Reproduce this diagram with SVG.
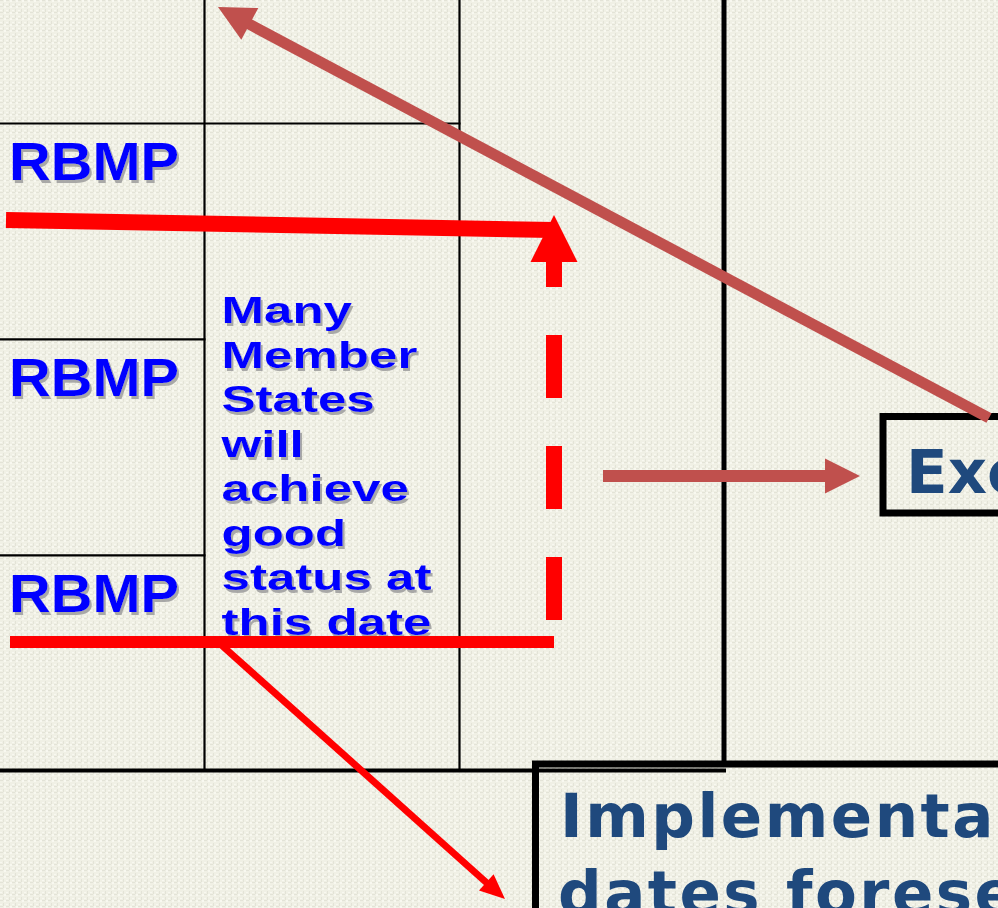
<svg xmlns="http://www.w3.org/2000/svg" width="998" height="908" viewBox="0 0 998 908">
<style>
.grid{stroke:#000;stroke-width:2.2;fill:none}
.heavy{stroke:#000;fill:none}
.rb{font-family:"Liberation Sans",Arial,sans-serif;font-weight:bold;font-size:54px;fill:#0000FF}
.cell{font-family:"Liberation Sans",Arial,sans-serif;font-weight:bold;font-size:37px;fill:#0000FF}
.dk{font-family:"DejaVu Sans",Verdana,sans-serif;font-weight:bold;font-size:61px;fill:#1F497D}
.red{stroke:#FF0000;fill:none}
.brn{stroke:#C0504D;fill:none}
</style>
<defs>
<pattern id="tex" width="6" height="6" patternUnits="userSpaceOnUse">
<rect width="6" height="6" fill="#F0F0E5"/>
<rect x="0" y="0" width="3" height="1" fill="#E3E3D7"/>
<rect x="3" y="3" width="1" height="3" fill="#E3E3D7"/>
<rect x="4" y="0" width="2" height="2" fill="#F8F8F0"/>
<rect x="0" y="4" width="2" height="1" fill="#F8F8F0"/>
</pattern>
<filter id="sh" x="-10%" y="-10%" width="125%" height="125%">
<feOffset in="SourceAlpha" dx="2.2" dy="2.5" result="o"/>
<feFlood flood-color="#9C9C9C" flood-opacity="0.85"/>
<feComposite in2="o" operator="in" result="s"/>
<feMerge><feMergeNode in="s"/><feMergeNode in="SourceGraphic"/></feMerge>
</filter>
</defs>
<rect id="background" width="998" height="908" fill="url(#tex)"/>

<g id="table">
<line class="grid" x1="204.5" y1="0" x2="204.5" y2="771"/>
<line class="grid" x1="459.5" y1="0" x2="459.5" y2="771"/>
<line class="grid" x1="0" y1="123.5" x2="460.5" y2="123.5"/>
<line class="grid" x1="0" y1="339.3" x2="205.5" y2="339.3"/>
<line class="grid" x1="0" y1="555.3" x2="205.5" y2="555.3"/>
<line class="heavy" stroke-width="4" x1="0" y1="770.5" x2="726" y2="770.5"/>
<line class="heavy" stroke-width="5" x1="724" y1="0" x2="724" y2="766"/>
</g>

<g id="rbmp1" filter="url(#sh)"><text class="rb" transform="translate(9 0) scale(1.07 1)" x="0" y="180">RBMP</text></g>
<g id="rbmp2" filter="url(#sh)"><text class="rb" transform="translate(9 0) scale(1.07 1)" x="0" y="396">RBMP</text></g>
<g id="rbmp3" filter="url(#sh)"><text class="rb" transform="translate(9 0) scale(1.07 1)" x="0" y="612">RBMP</text></g>

<g id="good-status-note" filter="url(#sh)">
<text class="cell" transform="translate(221.5 0) scale(1.38 1)">
<tspan x="0" y="323.5">Many</tspan>
<tspan x="0" y="368">Member</tspan>
<tspan x="0" y="412.5">States</tspan>
<tspan x="0" y="457">will</tspan>
<tspan x="0" y="501.5">achieve</tspan>
<tspan x="0" y="546">good</tspan>
<tspan x="0" y="590.5">status at</tspan>
<tspan x="0" y="635">this date</tspan>
</text>
</g>

<g id="exc-box">
<rect class="heavy" stroke-width="7" x="883" y="416.5" width="200" height="96.5"/>
<text class="dk" x="906" y="493">Exc</text>
</g>

<g id="implementation-box">
<rect class="heavy" stroke-width="7" x="535.5" y="764" width="500" height="200"/>
<text class="dk" x="560" y="837" letter-spacing="2.5">Implementa</text>
<text class="dk" x="558" y="914" letter-spacing="2.5">dates forese</text>
</g>

<g id="connectors">
<line class="red" stroke-width="16" x1="6" y1="220" x2="553" y2="230"/>
<line class="red" stroke-width="16" x1="554" y1="620" x2="554" y2="262" stroke-dasharray="63 48"/>
<polygon fill="#FF0000" points="554,215 577.5,262 530.5,262"/>
<line class="red" stroke-width="12" x1="10" y1="642" x2="554" y2="642"/>
<line class="red" stroke-width="7" x1="218" y1="642" x2="488" y2="884"/>
<polygon fill="#FF0000" points="505,899 479,890.6 493.6,874.2"/>
<line class="brn" stroke-width="11" x1="989" y1="418" x2="248" y2="23.5"/>
<polygon fill="#C0504D" points="218,7 258.3,8 241.3,39.8"/>
<line class="brn" stroke-width="12" x1="603" y1="476" x2="827" y2="476"/>
<polygon fill="#C0504D" points="860,476 825,458.5 825,493.5"/>
</g>
</svg>
